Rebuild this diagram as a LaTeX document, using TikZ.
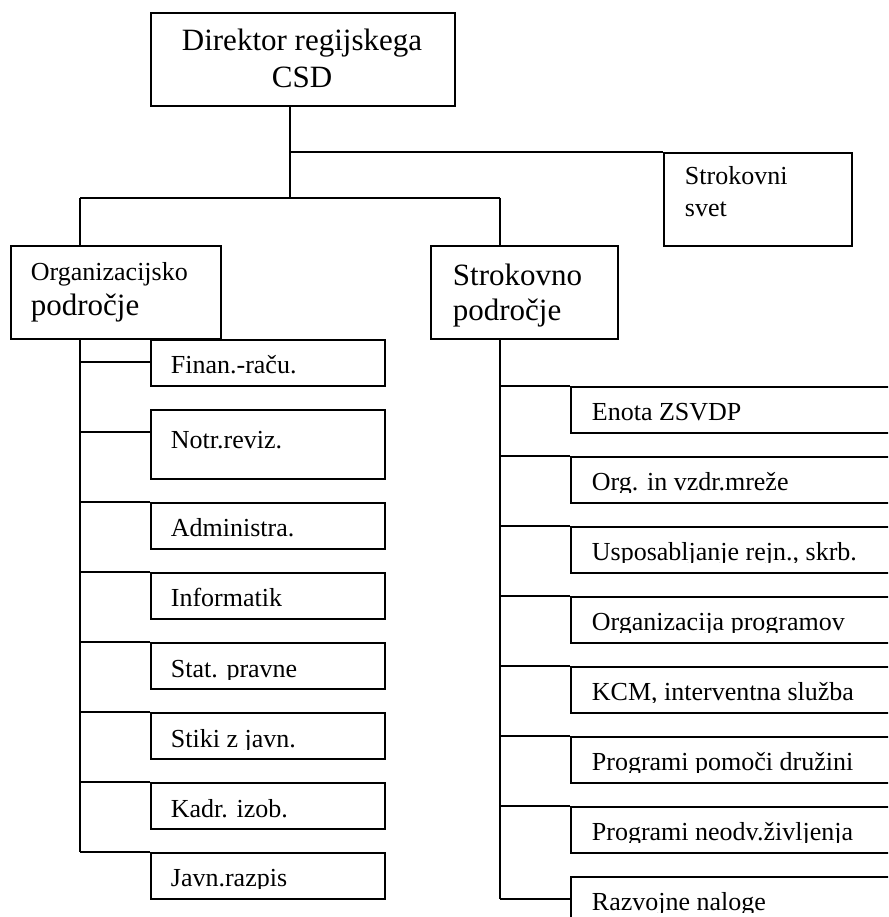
\documentclass[tikz,border=0pt]{standalone}
\usepackage{fontspec}
\setmainfont{Liberation Serif}

% label set on a baseline and cut just below it, as in a too-short text frame
\newcommand\framedlabel[3]{%
  \begin{scope}
    \clip (#1-6,#2-32) rectangle (#1+330,#2+2);
    \node[txt] at (#1,#2) {#3};
  \end{scope}}

\begin{document}
\begin{tikzpicture}[x=1pt, y=-1pt, line width=1.8pt,
  box/.style={draw, rectangle, inner sep=0pt, anchor=north west},
  smallbox/.style={box, minimum width=234pt, minimum height=46pt},
  widebox/.style={box, minimum width=340pt, minimum height=46pt},
  txt/.style={anchor=base west, inner sep=0pt, font=\fontsize{26}{30}\selectfont},
  bigtxt/.style={anchor=base west, inner sep=0pt, font=\fontsize{31}{36}\selectfont}]
\useasboundingbox (0,0) rectangle (888,917);
\clip (0,0) rectangle (888,917);

% top level
\node[box, minimum width=304pt, minimum height=93pt] (dir) at (150,12) {};
\node[anchor=base, inner sep=0pt, font=\fontsize{31}{36}\selectfont] (dirA) at (302,51) {Direktor regijskega};
\node[anchor=base, inner sep=0pt, font=\fontsize{31}{36}\selectfont] (dirB) at (302,88) {CSD};

\node[box, minimum width=188pt, minimum height=93pt] (svet) at (663,152) {};
\node[txt] (svetA) at (684,185) {Strokovni};
\node[txt] (svetB) at (684,217) {svet};

% second level
\node[box, minimum width=210pt, minimum height=93pt] (org) at (10,245) {};
\node[txt] (orgA) at (30,280) {Organizacijsko};
\node[bigtxt] (orgB) at (30,315) {področje};

\node[box, minimum width=187pt, minimum height=93pt] (str) at (430,245) {};
\node[bigtxt] (strA) at (452,285) {Strokovno};
\node[bigtxt] (strB) at (452,320) {področje};

% organisational units
\node[smallbox] (fin)  at (150,339) {};
\node[box, minimum width=234pt, minimum height=69pt] (notr) at (150,409) {};
\node[smallbox] (adm)  at (150,502) {};
\node[smallbox] (inf)  at (150,572) {};
\node[smallbox] (stat) at (150,642) {};
\node[smallbox] (stik) at (150,712) {};
\node[smallbox] (kadr) at (150,782) {};
\node[smallbox] (javn) at (150,852) {};
\framedlabel{170}{373}{Finan.-raču.}
\framedlabel{170}{448}{Notr.reviz.}
\framedlabel{170}{536}{Administra.}
\framedlabel{170}{606}{Informatik}
\framedlabel{170}{677}{Stat. pravne}
\framedlabel{170}{747}{Stiki z javn.}
\framedlabel{170}{817}{Kadr. izob.}
\framedlabel{170}{886}{Javn.razpis}

% professional units
\node[widebox] (r1) at (570,386) {};
\node[widebox] (r2) at (570,456) {};
\node[widebox] (r3) at (570,526) {};
\node[widebox] (r4) at (570,596) {};
\node[widebox] (r5) at (570,666) {};
\node[widebox] (r6) at (570,736) {};
\node[widebox] (r7) at (570,806) {};
\node[widebox] (r8) at (570,876) {};
\framedlabel{591}{420}{Enota ZSVDP}
\framedlabel{591}{490}{Org. in vzdr.mreže}
\framedlabel{591}{560}{Usposabljanje rejn., skrb.}
\framedlabel{591}{630}{Organizacija programov}
\framedlabel{591}{700}{KCM, interventna služba}
\framedlabel{591}{770}{Programi pomoči družini}
\framedlabel{591}{840}{Programi neodv.življenja}
\framedlabel{591}{910}{Razvojne naloge}

% connectors
\coordinate (split) at (290,198);
\coordinate (hub) at (290,152);
\coordinate (tl) at (80,198);
\coordinate (tr) at (500,198);
\coordinate (lend) at (80,852);
\coordinate (rend) at (500,899);

\draw (dir.south -| split) -- (split);
\draw (hub) -- (svet.north west);
\draw (tl) -- (tr);
\draw (tl) -- (tl |- org.north);
\draw (tr) -- (tr |- str.north);
\draw (tl |- org.south) -- (lend);
\draw (tr |- str.south) -- (rend);

\foreach \n/\y in {fin/362, notr/432, adm/502, inf/572, stat/642, stik/712, kadr/782, javn/852}
  \draw (80,\y) -- (\n.west |- 0,\y);
\foreach \n/\y in {r1/386, r2/456, r3/526, r4/596, r5/666, r6/736, r7/806, r8/899}
  \draw (500,\y) -- (\n.west |- 0,\y);
\end{tikzpicture}
\end{document}
